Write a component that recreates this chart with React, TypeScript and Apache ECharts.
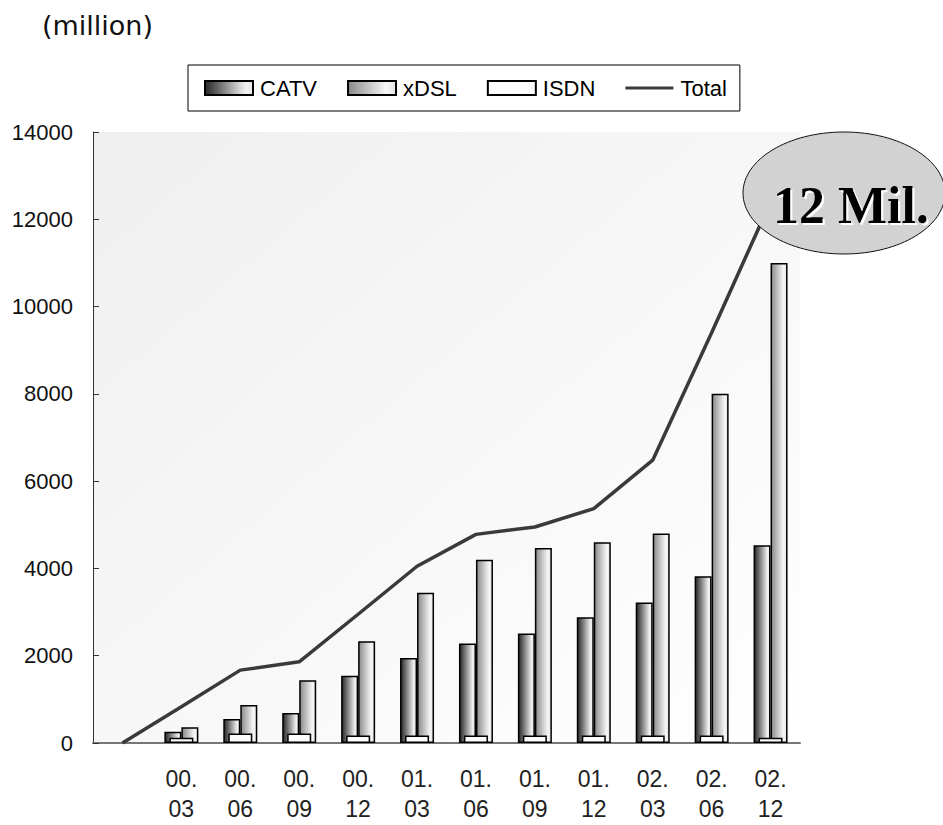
import React, { useEffect, useRef } from "react";
import * as echarts from "echarts";

const categories = ["", "00.03", "00.06", "00.09", "00.12", "01.03", "01.06", "01.09", "01.12", "02.03", "02.06", "02.12"];
const catv = [null, 260, 550, 690, 1540, 1950, 2280, 2510, 2880, 3220, 3820, 4530];
const xdsl = [null, 360, 870, 1440, 2330, 3440, 4200, 4470, 4600, 4800, 8000, 11000];
const isdn = [null, 120, 215, 215, 170, 170, 170, 170, 170, 170, 170, 120];
const total = [0, 830, 1670, 1860, 2950, 4050, 4780, 4950, 5370, 6480, 9400, 12400];
const yTicks = { min: 0, max: 14000, interval: 2000 };
const unitLabel = "(million)";
const calloutText = "12 Mil.";

const grad = (stops: [number, string][]) =>
  new echarts.graphic.LinearGradient(0, 0, 1, 0, stops.map(([offset, color]) => ({ offset, color })));

const lineIcon = "path://M0,0 L0.01,0 M0,5.5 L48,5.5 L48,8.5 L0,8.5 Z M48,14 L47.99,14";

export default function App() {
  const ref = useRef<HTMLDivElement>(null);
  useEffect(() => {
    if (!ref.current) return;
    const chart = echarts.init(ref.current, undefined, { renderer: "svg" });
    const catvColor = grad([[0, "#262626"], [0.85, "#f2f2f2"], [1, "#e6e6e6"]]);
    const xdslColor = grad([[0, "#8a8a8a"], [0.8, "#f7f7f7"], [1, "#e2e2e2"]]);
    const barBorder = { borderColor: "#000", borderWidth: 1.5 };
    chart.setOption({
      animation: false,
      backgroundColor: "#fff",
      title: {
        text: unitLabel,
        left: 37,
        top: 7,
        textStyle: { fontFamily: "'DejaVu Sans'", fontSize: 27, fontWeight: "normal", color: "#111" },
      },
      legend: {
        data: [
          { name: "CATV", icon: "rect" },
          { name: "xDSL", icon: "rect" },
          { name: "ISDN", icon: "rect" },
          { name: "Total", icon: lineIcon, itemStyle: { color: "#3a3a3a", borderWidth: 0 } },
        ],
        left: 188,
        top: 65,
        padding: [12, 13, 12, 16],
        itemGap: 30,
        itemWidth: 48,
        itemHeight: 14,
        borderColor: "#000",
        borderWidth: 1,
        backgroundColor: "#fff",
        textStyle: { fontFamily: "'Liberation Sans', Arial", fontSize: 22, color: "#000", padding: [0, 0, 0, 2] },
      },
      grid: {
        left: 93,
        right: 143,
        top: 132,
        bottom: 82,
        show: true,
        borderWidth: 0,
        backgroundColor: new echarts.graphic.LinearGradient(0, 0, 1, 1, [
          { offset: 0, color: "#efefef" },
          { offset: 1, color: "#ffffff" },
        ]),
      },
      xAxis: [
        {
          type: "category",
          data: categories,
          boundaryGap: true,
          axisLine: { lineStyle: { color: "#777", width: 2 } },
          axisTick: { inside: true, length: 8, interval: 0, lineStyle: { color: "#777", width: 1.5 } },
          axisLabel: {
            interval: 0,
            margin: 21,
            fontSize: 23,
            lineHeight: 30,
            color: "#222",
            fontFamily: "'Liberation Sans', Arial",
            formatter: (v: string) => v.replace(".", ".\n"),
          },
          splitLine: { show: false },
        },
        {
          type: "category",
          data: categories,
          show: false,
          boundaryGap: true,
        },
      ],
      yAxis: {
        type: "value",
        ...yTicks,
        axisLine: { show: true, lineStyle: { color: "#333", width: 1 } },
        axisTick: { show: true, inside: true, length: 6, lineStyle: { color: "#333" } },
        axisLabel: {
          margin: 20,
          fontSize: 22,
          color: "#111",
          fontFamily: "'Liberation Sans', Arial",
          formatter: (v: number) => String(v),
        },
        splitLine: { show: false },
      },
      series: [
        {
          name: "CATV",
          type: "bar",
          data: catv,
          barWidth: 17,
          barGap: "0%",
          itemStyle: { color: catvColor, ...barBorder },
        },
        {
          name: "xDSL",
          type: "bar",
          data: xdsl,
          barWidth: 17,
          barGap: "0%",
          itemStyle: { color: xdslColor, ...barBorder },
        },
        {
          name: "ISDN",
          type: "bar",
          xAxisIndex: 1,
          data: isdn,
          barWidth: 24,
          z: 5,
          itemStyle: { color: "#fcfcfc", ...barBorder },
        },
        {
          name: "Total",
          type: "line",
          data: total,
          symbol: "none",
          showSymbol: false,
          z: 6,
          lineStyle: { color: "#3a3a3a", width: 3.5 },
          itemStyle: { color: "#3a3a3a" },
        },
      ],
      graphic: [
        {
          type: "ellipse",
          z: 100,
          shape: { cx: 844, cy: 193, rx: 101, ry: 61 },
          style: { fill: "#d2d2d2", stroke: "#111", lineWidth: 1 },
        },
        {
          type: "text",
          z: 101,
          x: 851,
          y: 205,
          style: {
            text: calloutText,
            font: "bold 52px 'Liberation Serif', 'Times New Roman', serif",
            fill: "#000",
            align: "center",
            verticalAlign: "middle",
            textShadowColor: "#ffffff",
            textShadowOffsetX: 2,
            textShadowOffsetY: 2,
            textShadowBlur: 1,
          },
        },
      ],
    });
    return () => chart.dispose();
  }, []);
  return <div ref={ref} style={{ position: "fixed", left: 0, top: 0, width: 943, height: 825 }} />;
}
